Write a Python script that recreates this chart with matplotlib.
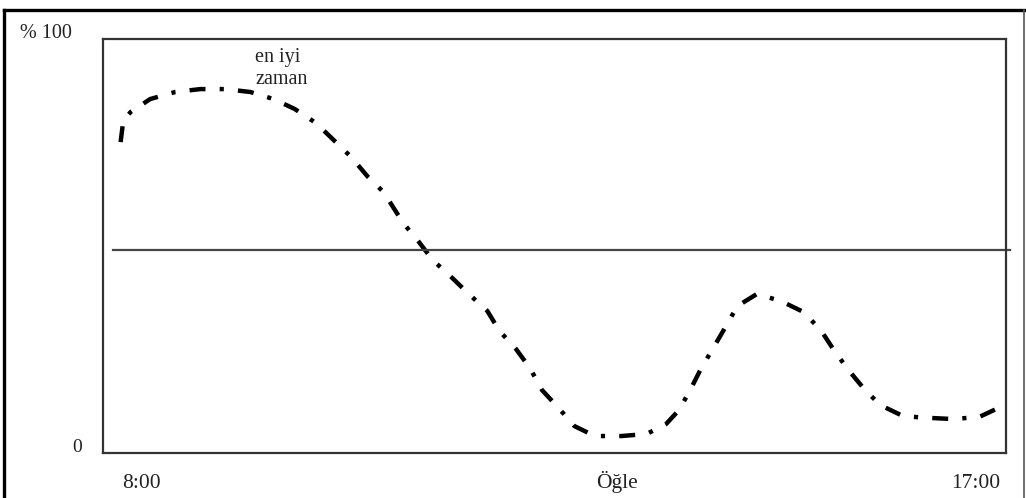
import numpy as np
import matplotlib.pyplot as plt
from matplotlib.lines import Line2D

# === DATOS ===
hours = [7.77, 7.80, 7.88, 8.09, 8.36, 8.63, 8.90, 9.17, 9.42, 9.65, 9.88,
         10.07, 10.26, 10.44, 10.61, 10.82, 10.99, 11.14, 11.35, 11.53, 11.73,
         11.86, 12.04, 12.19, 12.32, 12.49, 12.67, 12.89, 13.18, 13.45, 13.66,
         13.80, 13.92, 14.04, 14.17, 14.30, 14.43, 14.64, 14.90, 15.14, 15.33,
         15.47, 15.63, 15.79, 15.97, 16.22, 16.48, 16.76, 17.04, 17.27]
percent = [75.1, 80.4, 82.4, 85.5, 87.2, 87.9, 87.9, 87.2, 85.5, 83.1, 79.7,
           75.6, 71.5, 66.7, 63.0, 55.6, 51.0, 46.6, 42.3, 38.4, 34.3,
           29.5, 25.1, 20.5, 15.2, 11.1, 6.5, 4.1, 4.1, 4.6, 7.0,
           10.4, 15.2, 20.5, 25.4, 30.4, 35.5, 38.4, 36.7, 34.1, 29.7,
           24.9, 20.0, 15.7, 11.6, 8.9, 8.5, 8.2, 8.7, 11.1]
mean_level = 49
tick_pos = [8, 13.13, 17]
tick_labels = ["8:00", "Öğle", "17:00"]
note_lines = ["en iyi", "zaman"]

plt.rcParams['font.family'] = ['Liberation Serif', 'DejaVu Serif']
plt.rcParams['lines.scale_dashes'] = False

fig = plt.figure(figsize=(10.26, 4.98), dpi=100)
W, H = 1026, 498
ax = fig.add_axes([103 / W, 45 / H, 903 / W, 414 / H])
ax.set_xlim(7.58, 17.33)
ax.set_ylim(0, 100)

for s in ax.spines.values():
    s.set_color('#333333')
    s.set_linewidth(1.6)

# curva punto-raya
ax.plot(hours, percent, color='black', linewidth=3.2,
        dashes=(11.5, 10.2, 3.0, 10.2), dash_capstyle='butt')

# línea horizontal
ax.plot([7.69, 17.37], [mean_level, mean_level], color='#444444',
        linewidth=1.6, clip_on=False)

ax.set_xticks(tick_pos)
ax.set_xticklabels(tick_labels, fontsize=15.5, color='#222222')
for lbl in ax.get_xticklabels():
    lbl.set_verticalalignment('baseline')
ax.tick_params(axis='x', length=0, pad=25)
ax.set_yticks([])

# nota "en iyi zaman"
ax.text(9.22, 94.4, note_lines[0], fontsize=14.5, color='#222222', va='baseline')
ax.text(9.23, 89.1, note_lines[1], fontsize=14.5, color='#222222', va='baseline')

fig.text(20 / W, 1 - 38 / H, "% 100", fontsize=14.5, color='#222222',
         va='baseline', ha='left')
fig.text(77 / W, 1 - 452 / H, "0", fontsize=14, color='#222222',
         va='baseline', ha='center')

# marco exterior
fig.add_artist(Line2D([3.5 / W, 3.5 / W], [0, 1 - 10 / H], color='black',
                      linewidth=2.4, transform=fig.transFigure))
fig.add_artist(Line2D([3.5 / W, 1024 / W], [1 - 10.5 / H, 1 - 10.5 / H],
                      color='black', linewidth=2.4, transform=fig.transFigure))
fig.add_artist(Line2D([1024 / W, 1024 / W], [0, 1 - 10 / H], color='#555555',
                      linewidth=1.2, transform=fig.transFigure))

fig.savefig('out.png', dpi=100)
